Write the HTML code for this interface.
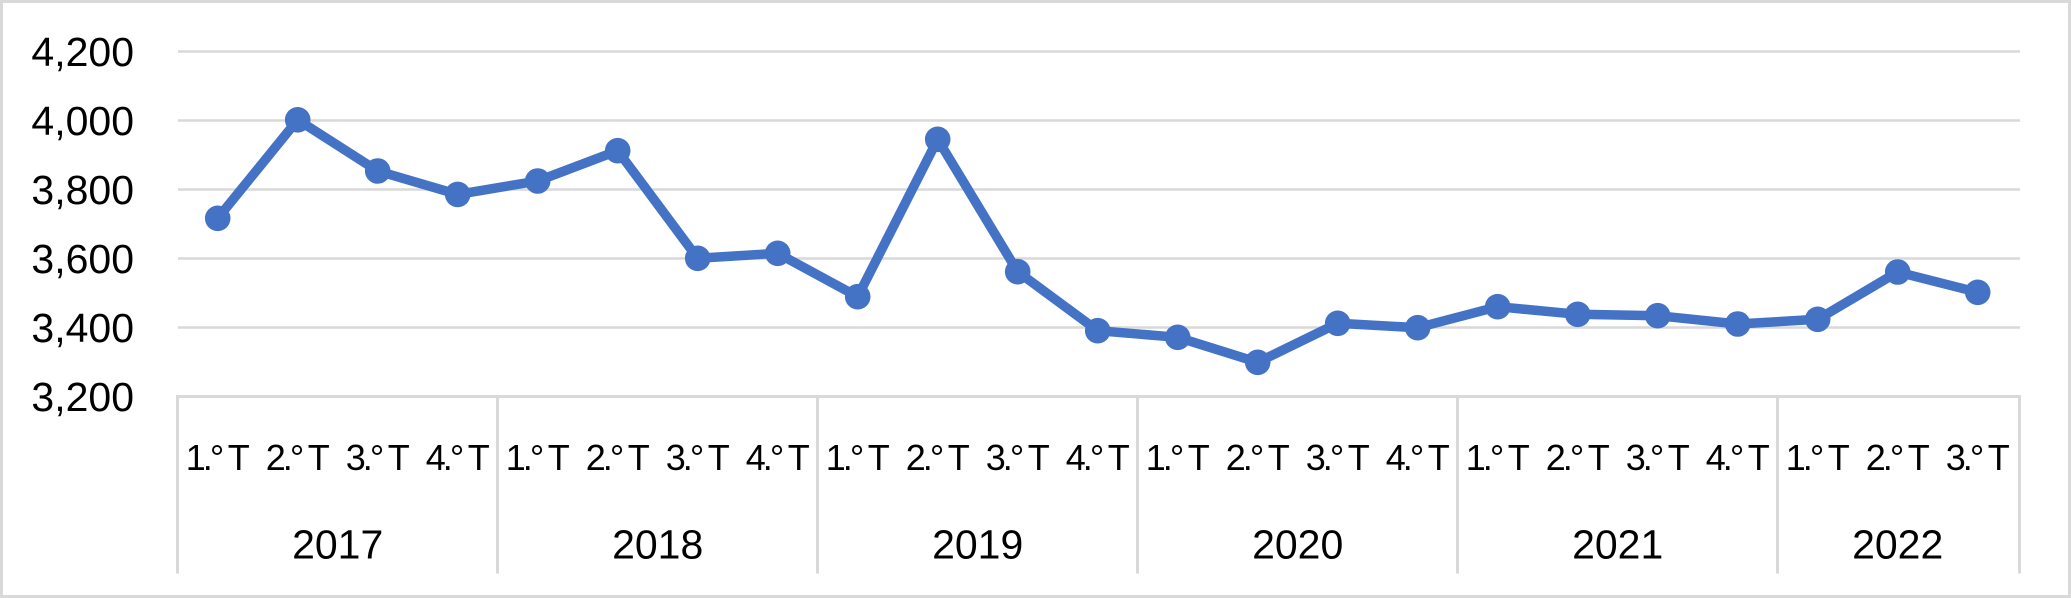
<!DOCTYPE html>
<html>
<head>
<meta charset="utf-8">
<style>
  html, body { margin: 0; padding: 0; background: #ffffff; }
  body { width: 2071px; height: 598px; overflow: hidden; }
  svg { display: block; }
  text { font-family: "Liberation Sans", sans-serif; fill: #000000; }
</style>
</head>
<body>
<svg width="2071" height="598" viewBox="0 0 2071 598" xmlns="http://www.w3.org/2000/svg">
  <rect x="0" y="0" width="2071" height="598" fill="#ffffff"/>
  <!-- outer border -->
  <rect x="1.5" y="1.5" width="2068" height="595" fill="none" stroke="#D9D9D9" stroke-width="3"/>

  <!-- gridlines -->
  <g stroke="#D9D9D9" stroke-width="2.5">
    <line x1="178" y1="51.5" x2="2020" y2="51.5"/>
    <line x1="178" y1="120.5" x2="2020" y2="120.5"/>
    <line x1="178" y1="189.5" x2="2020" y2="189.5"/>
    <line x1="178" y1="258.5" x2="2020" y2="258.5"/>
    <line x1="178" y1="327.5" x2="2020" y2="327.5"/>
  </g>
  <!-- category axis -->
  <g stroke="#D9D9D9" stroke-width="3">
    <line x1="176" y1="396.5" x2="2021" y2="396.5"/>
    <line x1="177.5" y1="395" x2="177.5" y2="573.5"/>
    <line x1="497.5" y1="395" x2="497.5" y2="573.5"/>
    <line x1="817.5" y1="395" x2="817.5" y2="573.5"/>
    <line x1="1137.5" y1="395" x2="1137.5" y2="573.5"/>
    <line x1="1457.5" y1="395" x2="1457.5" y2="573.5"/>
    <line x1="1777.5" y1="395" x2="1777.5" y2="573.5"/>
    <line x1="2019.5" y1="395" x2="2019.5" y2="573.5"/>
  </g>

  <!-- y axis labels -->
  <g font-size="41" text-anchor="end">
    <text x="134" y="66">4,200</text>
    <text x="134" y="135">4,000</text>
    <text x="134" y="204">3,800</text>
    <text x="134" y="273">3,600</text>
    <text x="134" y="342">3,400</text>
    <text x="134" y="411">3,200</text>
  </g>

  <!-- series line -->
  <polyline fill="none" stroke="#4472C4" stroke-width="9.5" stroke-linejoin="round" stroke-linecap="round"
    points="217.7,218.3 297.7,119.8 377.7,171 457.7,194.4 537.7,181 617.7,150.7 697.7,258.3 777.7,253.3 857.7,296.7 937.7,139.3 1017.7,271.7 1097.7,330.7 1177.7,337.3 1257.7,362.3 1337.7,323.3 1417.7,327.7 1497.7,306.7 1577.7,314.3 1657.7,315.7 1737.7,324 1817.7,319.3 1897.7,272 1977.7,292.3"/>
  <!-- markers -->
  <g fill="#4472C4">
    <circle cx="217.7" cy="218.3" r="12.8"/>
    <circle cx="297.7" cy="119.8" r="12.8"/>
    <circle cx="377.7" cy="171" r="12.8"/>
    <circle cx="457.7" cy="194.4" r="12.8"/>
    <circle cx="537.7" cy="181" r="12.8"/>
    <circle cx="617.7" cy="150.7" r="12.8"/>
    <circle cx="697.7" cy="258.3" r="12.8"/>
    <circle cx="777.7" cy="253.3" r="12.8"/>
    <circle cx="857.7" cy="296.7" r="12.8"/>
    <circle cx="937.7" cy="139.3" r="12.8"/>
    <circle cx="1017.7" cy="271.7" r="12.8"/>
    <circle cx="1097.7" cy="330.7" r="12.8"/>
    <circle cx="1177.7" cy="337.3" r="12.8"/>
    <circle cx="1257.7" cy="362.3" r="12.8"/>
    <circle cx="1337.7" cy="323.3" r="12.8"/>
    <circle cx="1417.7" cy="327.7" r="12.8"/>
    <circle cx="1497.7" cy="306.7" r="12.8"/>
    <circle cx="1577.7" cy="314.3" r="12.8"/>
    <circle cx="1657.7" cy="315.7" r="12.8"/>
    <circle cx="1737.7" cy="324" r="12.8"/>
    <circle cx="1817.7" cy="319.3" r="12.8"/>
    <circle cx="1897.7" cy="272" r="12.8"/>
    <circle cx="1977.7" cy="292.3" r="12.8"/>
  </g>

  <!-- quarter labels -->
  <g font-size="36" text-anchor="middle">
    <text x="217.7" y="470" textLength="64" lengthAdjust="spacing">1.° T</text>
    <text x="297.7" y="470" textLength="64" lengthAdjust="spacing">2.° T</text>
    <text x="377.7" y="470" textLength="64" lengthAdjust="spacing">3.° T</text>
    <text x="457.7" y="470" textLength="64" lengthAdjust="spacing">4.° T</text>
    <text x="537.7" y="470" textLength="64" lengthAdjust="spacing">1.° T</text>
    <text x="617.7" y="470" textLength="64" lengthAdjust="spacing">2.° T</text>
    <text x="697.7" y="470" textLength="64" lengthAdjust="spacing">3.° T</text>
    <text x="777.7" y="470" textLength="64" lengthAdjust="spacing">4.° T</text>
    <text x="857.7" y="470" textLength="64" lengthAdjust="spacing">1.° T</text>
    <text x="937.7" y="470" textLength="64" lengthAdjust="spacing">2.° T</text>
    <text x="1017.7" y="470" textLength="64" lengthAdjust="spacing">3.° T</text>
    <text x="1097.7" y="470" textLength="64" lengthAdjust="spacing">4.° T</text>
    <text x="1177.7" y="470" textLength="64" lengthAdjust="spacing">1.° T</text>
    <text x="1257.7" y="470" textLength="64" lengthAdjust="spacing">2.° T</text>
    <text x="1337.7" y="470" textLength="64" lengthAdjust="spacing">3.° T</text>
    <text x="1417.7" y="470" textLength="64" lengthAdjust="spacing">4.° T</text>
    <text x="1497.7" y="470" textLength="64" lengthAdjust="spacing">1.° T</text>
    <text x="1577.7" y="470" textLength="64" lengthAdjust="spacing">2.° T</text>
    <text x="1657.7" y="470" textLength="64" lengthAdjust="spacing">3.° T</text>
    <text x="1737.7" y="470" textLength="64" lengthAdjust="spacing">4.° T</text>
    <text x="1817.7" y="470" textLength="64" lengthAdjust="spacing">1.° T</text>
    <text x="1897.7" y="470" textLength="64" lengthAdjust="spacing">2.° T</text>
    <text x="1977.7" y="470" textLength="64" lengthAdjust="spacing">3.° T</text>
  </g>

  <!-- year labels -->
  <g font-size="41" text-anchor="middle">
    <text x="337.7" y="558.5">2017</text>
    <text x="657.7" y="558.5">2018</text>
    <text x="977.7" y="558.5">2019</text>
    <text x="1297.7" y="558.5">2020</text>
    <text x="1617.7" y="558.5">2021</text>
    <text x="1897.7" y="558.5">2022</text>
  </g>
</svg>
</body>
</html>
